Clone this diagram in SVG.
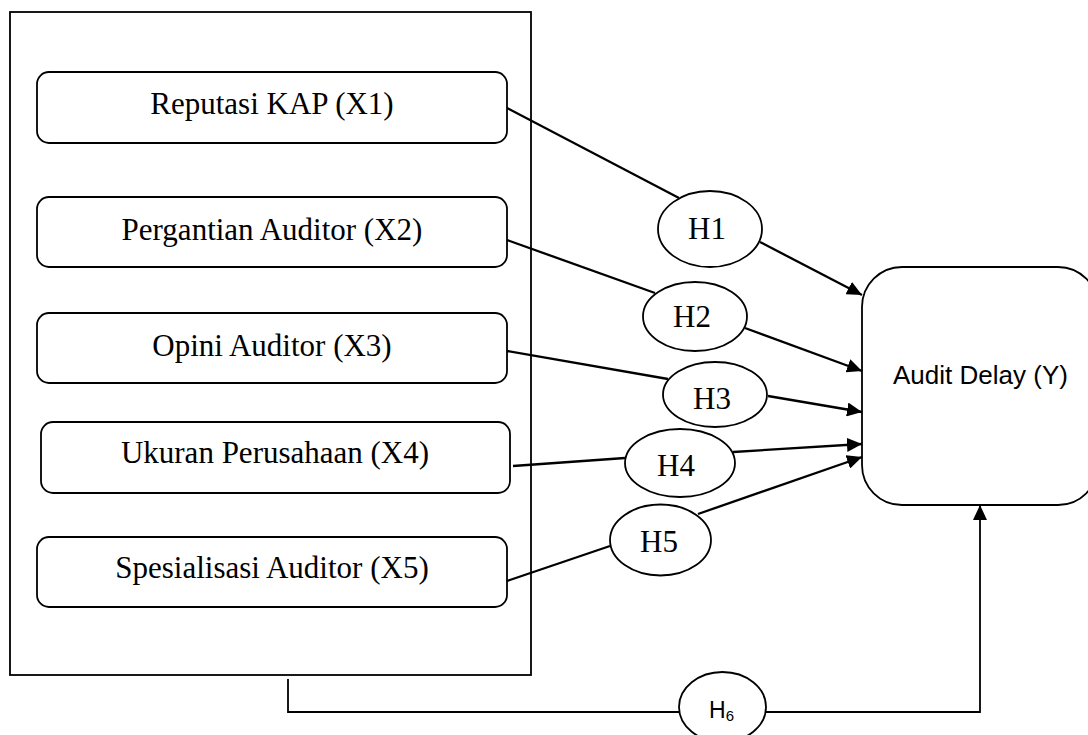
<svg xmlns="http://www.w3.org/2000/svg" width="1088" height="735" viewBox="0 0 1088 735">
<style>
.box{fill:#fff;stroke:#000;stroke-width:1.8}
.frame{fill:none;stroke:#000;stroke-width:1.8}
.ell{fill:#fff;stroke:#000;stroke-width:1.8}
.con{fill:none;stroke:#000;stroke-width:2.3}
.serif{font-family:"Liberation Serif","Times New Roman",serif;font-size:31px;fill:#000;text-anchor:middle}
.sans{font-family:"Liberation Sans",Arial,sans-serif;fill:#000}
</style>
<defs>
<marker id="arr" markerUnits="userSpaceOnUse" markerWidth="16" markerHeight="14" refX="15" refY="7" orient="auto">
<path d="M0,0 L15,7 L0,14 z" fill="#000"/>
</marker>
</defs>
<rect width="1088" height="735" fill="#fff"/>
<g id="frame"><rect class="frame" x="10" y="12" width="521" height="663"/></g>
<g id="connectors">
<line class="con" x1="507" y1="108" x2="679" y2="198"/>
<line class="con" x1="760" y1="242" x2="862" y2="295" marker-end="url(#arr)"/>
<line class="con" x1="507" y1="240" x2="655" y2="293"/>
<line class="con" x1="745" y1="328" x2="862" y2="371" marker-end="url(#arr)"/>
<line class="con" x1="507" y1="351" x2="668" y2="379"/>
<line class="con" x1="768" y1="396" x2="862" y2="412" marker-end="url(#arr)"/>
<line class="con" x1="513" y1="466" x2="625" y2="458"/>
<line class="con" x1="733" y1="452" x2="862" y2="444" marker-end="url(#arr)"/>
<line class="con" x1="507" y1="581" x2="610" y2="546"/>
<line class="con" x1="698" y1="514" x2="862" y2="457" marker-end="url(#arr)"/>
<polyline class="con" style="stroke-width:1.8" points="288,679 288,712 680,712"/>
<polyline class="con" style="stroke-width:1.8" points="765,712 980,712 980,505" marker-end="url(#arr)"/>
</g>
<g id="x1"><rect class="box" x="37" y="72" width="470" height="71" rx="12"/><text class="serif" x="272" y="114">Reputasi KAP (X1)</text></g>
<g id="x2"><rect class="box" x="37" y="197" width="470" height="70" rx="12"/><text class="serif" x="272" y="240">Pergantian Auditor (X2)</text></g>
<g id="x3"><rect class="box" x="37" y="313" width="470" height="70" rx="12"/><text class="serif" x="272" y="356">Opini Auditor (X3)</text></g>
<g id="x4"><rect class="box" x="41" y="422" width="469" height="71" rx="12"/><text class="serif" x="275" y="463">Ukuran Perusahaan (X4)</text></g>
<g id="x5"><rect class="box" x="37" y="537" width="470" height="70" rx="12"/><text class="serif" x="272" y="578">Spesialisasi Auditor (X5)</text></g>
<g id="y"><rect class="box" x="862" y="267" width="236" height="238" rx="40"/><text class="sans" x="893" y="384" font-size="26" textLength="175" lengthAdjust="spacingAndGlyphs">Audit Delay (Y)</text></g>
<g id="h1"><ellipse class="ell" cx="710" cy="229" rx="52" ry="38"/><text class="serif" x="707" y="239">H1</text></g>
<g id="h2"><ellipse class="ell" cx="695" cy="316.5" rx="52" ry="34.5"/><text class="serif" x="692" y="327">H2</text></g>
<g id="h3"><ellipse class="ell" cx="715" cy="394.5" rx="52" ry="32.5"/><text class="serif" x="712" y="409">H3</text></g>
<g id="h4"><ellipse class="ell" cx="680" cy="463" rx="55" ry="34"/><text class="serif" x="676" y="476">H4</text></g>
<g id="h5"><ellipse class="ell" cx="660.5" cy="540" rx="50.5" ry="35.5"/><text class="serif" x="659" y="552">H5</text></g>
<g id="h6"><ellipse class="ell" cx="722.5" cy="707" rx="43.5" ry="35"/><text class="sans" x="709" y="718" font-size="23">H<tspan font-size="15" dy="3">6</tspan></text></g>
</svg>
